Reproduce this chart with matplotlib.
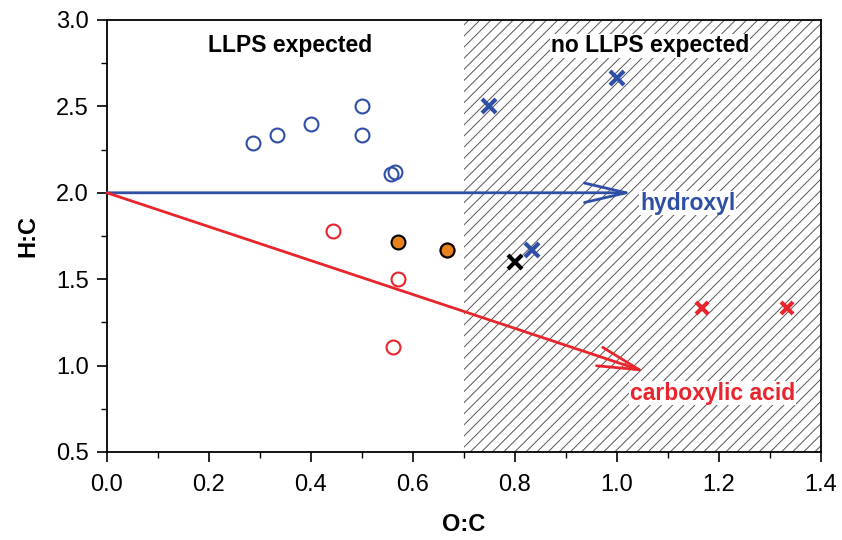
import numpy as np
import matplotlib.pyplot as plt
from matplotlib.patches import Rectangle
from matplotlib.ticker import MultipleLocator

plt.rcParams['font.family'] = ['Liberation Sans', 'DejaVu Sans']
plt.rcParams['hatch.linewidth'] = 0.7

blue = '#2f4fa6'
red = '#e8242c'
orange = '#e8821e'

# LLPS (open circles)
oc_blue = [0.286, 0.333, 0.4, 0.5, 0.5, 0.556, 0.565]
hc_blue = [2.286, 2.333, 2.4, 2.5, 2.333, 2.111, 2.12]
oc_red = [0.444, 0.571, 0.56, 0.667]
hc_red = [1.778, 1.5, 1.11, 1.667]
oc_orange = [0.571, 0.667]
hc_orange = [1.714, 1.667]

# no LLPS (crosses)
oc_bx = [0.75, 1.0, 0.833]
hc_bx = [2.5, 2.667, 1.667]
oc_kx = [0.8]
hc_kx = [1.6]
oc_rx = [1.167, 1.333]
hc_rx = [1.333, 1.333]

# functional group arrows: start (O:C, H:C) -> end
hyd_arrow = [(0.0, 2.0), (1.03, 2.0)]
acid_arrow = [(0.0, 2.0), (1.055, 0.965)]

fig = plt.figure(figsize=(8.42, 5.40), dpi=100)
ax = fig.add_axes([0.127, 0.163, 0.848, 0.8])

ax.add_patch(Rectangle((0.7, 0.5), 0.7, 2.5, facecolor='white', edgecolor='#555555',
                       hatch='///', linewidth=0, zorder=0))

ax.annotate('', xy=hyd_arrow[1], xytext=hyd_arrow[0],
            arrowprops=dict(arrowstyle='->, head_length=1.5, head_width=0.35',
                            color=blue, lw=2, mutation_scale=20, shrinkA=0, shrinkB=0))
ax.annotate('', xy=acid_arrow[1], xytext=acid_arrow[0],
            arrowprops=dict(arrowstyle='->, head_length=1.5, head_width=0.35',
                            color=red, lw=2, mutation_scale=20, shrinkA=0, shrinkB=0))

ax.plot(oc_red, hc_red, 'o', ms=10, mfc='white', mec=red, mew=1.5, zorder=3)
ax.plot(oc_blue, hc_blue, 'o', ms=10, mfc='none', mec=blue, mew=1.5, zorder=3)
ax.plot(oc_orange, hc_orange, 'o', ms=10, mfc=orange, mec='black', mew=1.5, zorder=4)
ax.plot(oc_bx, hc_bx, 'x', ms=10, mec=blue, mew=3, zorder=3)
ax.plot(oc_kx, hc_kx, 'x', ms=10, mec='black', mew=3, zorder=3)
ax.plot(oc_rx, hc_rx, 'x', ms=9, mec=red, mew=3, zorder=3)

ax.text(0.36, 2.85, 'LLPS expected', fontsize=16.5, fontweight='bold', ha='center', va='center')
ax.text(1.065, 2.85, 'no LLPS expected', fontsize=16.5, fontweight='bold', ha='center', va='center',
        bbox=dict(facecolor='white', edgecolor='none', pad=0.5))
ax.text(1.045, 1.94, 'hydroxyl', fontsize=16.5, fontweight='bold', color=blue, ha='left', va='center',
        bbox=dict(facecolor='white', edgecolor='none', pad=0.5))
ax.text(1.025, 0.84, 'carboxylic acid', fontsize=16.5, fontweight='bold', color=red, ha='left', va='center',
        bbox=dict(facecolor='white', edgecolor='none', pad=0.5))

ax.set_xlim(0, 1.4)
ax.set_ylim(0.5, 3.0)
ax.xaxis.set_major_locator(MultipleLocator(0.2))
ax.xaxis.set_minor_locator(MultipleLocator(0.1))
ax.yaxis.set_major_locator(MultipleLocator(0.5))
ax.yaxis.set_minor_locator(MultipleLocator(0.25))
ax.xaxis.set_major_formatter(lambda v, p: f'{v:.1f}')
ax.yaxis.set_major_formatter(lambda v, p: f'{v:.1f}')
ax.tick_params(which='major', direction='out', length=7, width=1.2, labelsize=17)
ax.tick_params(which='minor', direction='out', length=4, width=1.0)
ax.tick_params(axis='x', pad=9)
ax.tick_params(axis='y', pad=6)
for s in ax.spines.values():
    s.set_linewidth(1.3)

ax.set_xlabel('O:C', fontsize=17, fontweight='bold', labelpad=12)
ax.set_ylabel('H:C', fontsize=17, fontweight='bold', labelpad=12)

plt.savefig('out.png', dpi=100)
